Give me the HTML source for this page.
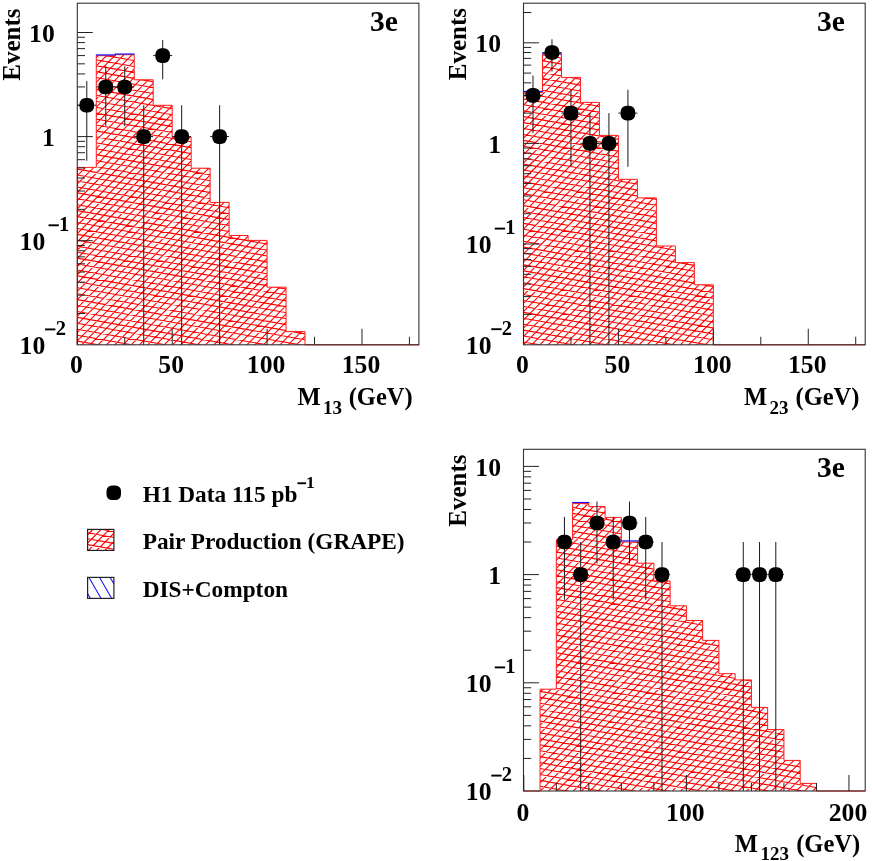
<!DOCTYPE html>
<html><head><meta charset="utf-8"><title>chart</title>
<style>html,body{margin:0;padding:0;background:#fff}svg{display:block;will-change:transform}text{font-family:"Liberation Serif",serif}</style></head>
<body>
<svg width="872" height="861" viewBox="0 0 872 861">
<defs>
</defs>
<rect width="872" height="861" fill="#fff"/>
<clipPath id="clip1"><rect x="77.3" y="3.2" width="341.59999999999997" height="341.6"/></clipPath>
<path d="M77.30 344.80 L77.30 167.40 L96.28 167.40 L96.28 55.70 L115.26 55.70 L115.26 54.70 L134.23 54.70 L134.23 79.80 L153.21 79.80 L153.21 105.30 L172.19 105.30 L172.19 137.50 L191.17 137.50 L191.17 168.20 L210.14 168.20 L210.14 202.40 L229.12 202.40 L229.12 235.50 L248.10 235.50 L248.10 240.40 L267.08 240.40 L267.08 287.20 L286.06 287.20 L286.06 331.60 L305.03 331.60 L305.03 344.80Z" fill="#fff" stroke="none"/>
<clipPath id="hc1"><path d="M77.30 344.80 L77.30 167.40 L96.28 167.40 L96.28 55.70 L115.26 55.70 L115.26 54.70 L134.23 54.70 L134.23 79.80 L153.21 79.80 L153.21 105.30 L172.19 105.30 L172.19 137.50 L191.17 137.50 L191.17 168.20 L210.14 168.20 L210.14 202.40 L229.12 202.40 L229.12 235.50 L248.10 235.50 L248.10 240.40 L267.08 240.40 L267.08 287.20 L286.06 287.20 L286.06 331.60 L305.03 331.60 L305.03 344.80Z"/></clipPath>
<g clip-path="url(#hc1)"><path d="M77.30 10.52L418.90 -331.08 M77.30 18.78L418.90 -322.82 M77.30 27.04L418.90 -314.56 M77.30 35.30L418.90 -306.30 M77.30 43.56L418.90 -298.04 M77.30 51.82L418.90 -289.78 M77.30 60.08L418.90 -281.52 M77.30 68.34L418.90 -273.26 M77.30 76.60L418.90 -265.00 M77.30 84.86L418.90 -256.74 M77.30 93.12L418.90 -248.48 M77.30 101.38L418.90 -240.22 M77.30 109.64L418.90 -231.96 M77.30 117.90L418.90 -223.70 M77.30 126.16L418.90 -215.44 M77.30 134.42L418.90 -207.18 M77.30 142.68L418.90 -198.92 M77.30 150.94L418.90 -190.66 M77.30 159.20L418.90 -182.40 M77.30 167.46L418.90 -174.14 M77.30 175.72L418.90 -165.88 M77.30 183.98L418.90 -157.62 M77.30 192.24L418.90 -149.36 M77.30 200.50L418.90 -141.10 M77.30 208.76L418.90 -132.84 M77.30 217.02L418.90 -124.58 M77.30 225.28L418.90 -116.32 M77.30 233.54L418.90 -108.06 M77.30 241.80L418.90 -99.80 M77.30 250.06L418.90 -91.54 M77.30 258.32L418.90 -83.28 M77.30 266.58L418.90 -75.02 M77.30 274.84L418.90 -66.76 M77.30 283.10L418.90 -58.50 M77.30 291.36L418.90 -50.24 M77.30 299.62L418.90 -41.98 M77.30 307.88L418.90 -33.72 M77.30 316.14L418.90 -25.46 M77.30 324.40L418.90 -17.20 M77.30 332.66L418.90 -8.94 M77.30 340.92L418.90 -0.68 M77.30 349.18L418.90 7.58 M77.30 357.44L418.90 15.84 M77.30 365.70L418.90 24.10 M77.30 373.96L418.90 32.36 M77.30 382.22L418.90 40.62 M77.30 390.48L418.90 48.88 M77.30 398.74L418.90 57.14 M77.30 407.00L418.90 65.40 M77.30 415.26L418.90 73.66 M77.30 423.52L418.90 81.92 M77.30 431.78L418.90 90.18 M77.30 440.04L418.90 98.44 M77.30 448.30L418.90 106.70 M77.30 456.56L418.90 114.96 M77.30 464.82L418.90 123.22 M77.30 473.08L418.90 131.48 M77.30 481.34L418.90 139.74 M77.30 489.60L418.90 148.00 M77.30 497.86L418.90 156.26 M77.30 506.12L418.90 164.52 M77.30 514.38L418.90 172.78 M77.30 522.64L418.90 181.04 M77.30 530.90L418.90 189.30 M77.30 539.16L418.90 197.56 M77.30 547.42L418.90 205.82 M77.30 555.68L418.90 214.08 M77.30 563.94L418.90 222.34 M77.30 572.20L418.90 230.60 M77.30 580.46L418.90 238.86 M77.30 588.72L418.90 247.12 M77.30 596.98L418.90 255.38 M77.30 605.24L418.90 263.64 M77.30 613.50L418.90 271.90 M77.30 621.76L418.90 280.16 M77.30 630.02L418.90 288.42 M77.30 638.28L418.90 296.68 M77.30 646.54L418.90 304.94 M77.30 654.80L418.90 313.20 M77.30 663.06L418.90 321.46 M77.30 671.32L418.90 329.72 M77.30 679.58L418.90 337.98 M77.30 -56.19L418.90 4.04 M77.30 -50.26L418.90 9.97 M77.30 -44.33L418.90 15.90 M77.30 -38.40L418.90 21.83 M77.30 -32.47L418.90 27.76 M77.30 -26.54L418.90 33.69 M77.30 -20.61L418.90 39.62 M77.30 -14.68L418.90 45.55 M77.30 -8.75L418.90 51.48 M77.30 -2.82L418.90 57.41 M77.30 3.11L418.90 63.34 M77.30 9.04L418.90 69.27 M77.30 14.97L418.90 75.20 M77.30 20.90L418.90 81.13 M77.30 26.83L418.90 87.06 M77.30 32.76L418.90 92.99 M77.30 38.69L418.90 98.92 M77.30 44.62L418.90 104.85 M77.30 50.55L418.90 110.78 M77.30 56.48L418.90 116.71 M77.30 62.41L418.90 122.64 M77.30 68.34L418.90 128.57 M77.30 74.27L418.90 134.50 M77.30 80.20L418.90 140.43 M77.30 86.13L418.90 146.36 M77.30 92.06L418.90 152.29 M77.30 97.99L418.90 158.22 M77.30 103.92L418.90 164.15 M77.30 109.85L418.90 170.08 M77.30 115.78L418.90 176.01 M77.30 121.71L418.90 181.94 M77.30 127.64L418.90 187.87 M77.30 133.57L418.90 193.80 M77.30 139.50L418.90 199.73 M77.30 145.43L418.90 205.66 M77.30 151.36L418.90 211.59 M77.30 157.29L418.90 217.52 M77.30 163.22L418.90 223.45 M77.30 169.15L418.90 229.38 M77.30 175.08L418.90 235.31 M77.30 181.01L418.90 241.24 M77.30 186.94L418.90 247.17 M77.30 192.87L418.90 253.10 M77.30 198.80L418.90 259.03 M77.30 204.73L418.90 264.96 M77.30 210.66L418.90 270.89 M77.30 216.59L418.90 276.82 M77.30 222.52L418.90 282.75 M77.30 228.45L418.90 288.68 M77.30 234.38L418.90 294.61 M77.30 240.31L418.90 300.54 M77.30 246.24L418.90 306.47 M77.30 252.17L418.90 312.40 M77.30 258.10L418.90 318.33 M77.30 264.03L418.90 324.26 M77.30 269.96L418.90 330.19 M77.30 275.89L418.90 336.12 M77.30 281.82L418.90 342.05 M77.30 287.75L418.90 347.98 M77.30 293.68L418.90 353.91 M77.30 299.61L418.90 359.84 M77.30 305.54L418.90 365.77 M77.30 311.47L418.90 371.70 M77.30 317.40L418.90 377.63 M77.30 323.33L418.90 383.56 M77.30 329.26L418.90 389.49 M77.30 335.19L418.90 395.42 M77.30 341.12L418.90 401.35" stroke="#ff0000" stroke-width="1.1" fill="none"/></g>
<path d="M305.03 344.8H418.9M77.3 344.8H77.30" stroke="#ff0000" stroke-width="1.0" fill="none"/>
<path d="M77.30 344.80 L77.30 167.40 L96.28 167.40 L96.28 55.70 L115.26 55.70 L115.26 54.70 L134.23 54.70 L134.23 79.80 L153.21 79.80 L153.21 105.30 L172.19 105.30 L172.19 137.50 L191.17 137.50 L191.17 168.20 L210.14 168.20 L210.14 202.40 L229.12 202.40 L229.12 235.50 L248.10 235.50 L248.10 240.40 L267.08 240.40 L267.08 287.20 L286.06 287.20 L286.06 331.60 L305.03 331.60 L305.03 344.80" fill="none" stroke="#ff1a1a" stroke-width="1"/>
<path d="M95.78 54.90H115.76" stroke="#1010ff" stroke-width="1.15" fill="none"/>
<path d="M114.76 54.00H134.73" stroke="#1010ff" stroke-width="1.15" fill="none"/>
<rect x="77.3" y="3.2" width="341.59999999999997" height="341.6" fill="none" stroke="#333" stroke-width="1.1"/>
<path d="M77.30 344.8v-16 M172.19 344.8v-16 M267.08 344.8v-16 M361.97 344.8v-16 M124.74 344.8v-8 M219.63 344.8v-8 M314.52 344.8v-8 M409.41 344.8v-8 M77.3 313.46h7.7 M77.3 295.13h7.7 M77.3 282.13h7.7 M77.3 272.04h7.7 M77.3 263.79h7.7 M77.3 256.83h7.7 M77.3 250.79h7.7 M77.3 245.46h7.7 M77.3 240.70h15.5 M77.3 209.36h7.7 M77.3 191.03h7.7 M77.3 178.03h7.7 M77.3 167.94h7.7 M77.3 159.69h7.7 M77.3 152.73h7.7 M77.3 146.69h7.7 M77.3 141.36h7.7 M77.3 136.60h15.5 M77.3 105.26h7.7 M77.3 86.93h7.7 M77.3 73.93h7.7 M77.3 63.84h7.7 M77.3 55.59h7.7 M77.3 48.63h7.7 M77.3 42.59h7.7 M77.3 37.26h7.7 M77.3 32.50h15.5" stroke="#222" stroke-width="1" fill="none"/>
<path d="M86.79 81.08V160.78M77.30 105.26H96.28 M105.77 66.33V125.87M96.28 86.93H115.26 M124.74 66.33V125.87M115.26 86.93H134.23 M143.72 105.26V344.80M134.23 136.60H153.21 M162.70 40.12V79.31M153.21 55.59H172.19 M181.68 105.26V344.80M172.19 136.60H191.17 M219.63 105.26V344.80M210.14 136.60H229.12" stroke="#1a1a1a" stroke-width="1" fill="none"/>
<rect x="79.49" y="97.96" width="14.6" height="14.6" rx="6" fill="#000"/>
<rect x="98.47" y="79.63" width="14.6" height="14.6" rx="6" fill="#000"/>
<rect x="117.44" y="79.63" width="14.6" height="14.6" rx="6" fill="#000"/>
<rect x="136.42" y="129.30" width="14.6" height="14.6" rx="6" fill="#000"/>
<rect x="155.40" y="48.29" width="14.6" height="14.6" rx="6" fill="#000"/>
<rect x="174.38" y="129.30" width="14.6" height="14.6" rx="6" fill="#000"/>
<rect x="212.33" y="129.30" width="14.6" height="14.6" rx="6" fill="#000"/>
<text x="76.30" y="373.3" font-size="25.7" text-anchor="middle" font-family="Liberation Serif, serif" font-weight="bold">0</text>
<text x="171.19" y="373.3" font-size="25.7" text-anchor="middle" font-family="Liberation Serif, serif" font-weight="bold">50</text>
<text x="266.08" y="373.3" font-size="25.7" text-anchor="middle" font-family="Liberation Serif, serif" font-weight="bold">100</text>
<text x="360.97" y="373.3" font-size="25.7" text-anchor="middle" font-family="Liberation Serif, serif" font-weight="bold">150</text>
<text x="54.8" y="41.70" font-size="25.7" text-anchor="end" font-family="Liberation Serif, serif" font-weight="bold">10</text>
<text x="54.8" y="145.80" font-size="25.7" text-anchor="end" font-family="Liberation Serif, serif" font-weight="bold">1</text>
<text x="45.3" y="249.70" font-size="25.7" text-anchor="end" font-family="Liberation Serif, serif" font-weight="bold">10</text>
<rect x="48.55" y="224.35" width="10.3" height="1.9" fill="#000"/>
<text x="58.96" y="230.70" font-size="20.5" font-family="Liberation Serif, serif" font-weight="bold">1</text>
<text x="45.3" y="353.80" font-size="25.7" text-anchor="end" font-family="Liberation Serif, serif" font-weight="bold">10</text>
<rect x="45.10" y="328.45" width="10.3" height="1.9" fill="#000"/>
<text x="55.64" y="334.80" font-size="20.5" font-family="Liberation Serif, serif" font-weight="bold">2</text>
<text transform="translate(20 8.5) rotate(-90)" font-size="25" text-anchor="end" font-family="Liberation Serif, serif" font-weight="bold">Events</text>
<text x="369.9" y="31.0" font-size="29.5" font-family="Liberation Serif, serif" font-weight="bold">3e</text>
<text x="297.5" y="405" font-size="24.5" font-family="Liberation Serif, serif" font-weight="bold">M</text>
<text x="323.1" y="413.6" font-size="19" font-family="Liberation Serif, serif" font-weight="bold">13</text>
<text x="348.7" y="405" font-size="24.5" font-family="Liberation Serif, serif" font-weight="bold">(GeV)</text>
<clipPath id="clip2"><rect x="523.5" y="3.2" width="341.70000000000005" height="341.6"/></clipPath>
<path d="M523.50 344.80 L523.50 92.40 L542.48 92.40 L542.48 54.70 L561.47 54.70 L561.47 77.40 L580.45 77.40 L580.45 102.40 L599.43 102.40 L599.43 135.40 L618.42 135.40 L618.42 179.30 L637.40 179.30 L637.40 197.90 L656.38 197.90 L656.38 246.00 L675.37 246.00 L675.37 262.60 L694.35 262.60 L694.35 284.80 L713.33 284.80 L713.33 344.80Z" fill="#fff" stroke="none"/>
<clipPath id="hc2"><path d="M523.50 344.80 L523.50 92.40 L542.48 92.40 L542.48 54.70 L561.47 54.70 L561.47 77.40 L580.45 77.40 L580.45 102.40 L599.43 102.40 L599.43 135.40 L618.42 135.40 L618.42 179.30 L637.40 179.30 L637.40 197.90 L656.38 197.90 L656.38 246.00 L675.37 246.00 L675.37 262.60 L694.35 262.60 L694.35 284.80 L713.33 284.80 L713.33 344.80Z"/></clipPath>
<g clip-path="url(#hc2)"><path d="M523.50 6.04L865.20 -335.66 M523.50 14.30L865.20 -327.40 M523.50 22.56L865.20 -319.14 M523.50 30.82L865.20 -310.88 M523.50 39.08L865.20 -302.62 M523.50 47.34L865.20 -294.36 M523.50 55.60L865.20 -286.10 M523.50 63.86L865.20 -277.84 M523.50 72.12L865.20 -269.58 M523.50 80.38L865.20 -261.32 M523.50 88.64L865.20 -253.06 M523.50 96.90L865.20 -244.80 M523.50 105.16L865.20 -236.54 M523.50 113.42L865.20 -228.28 M523.50 121.68L865.20 -220.02 M523.50 129.94L865.20 -211.76 M523.50 138.20L865.20 -203.50 M523.50 146.46L865.20 -195.24 M523.50 154.72L865.20 -186.98 M523.50 162.98L865.20 -178.72 M523.50 171.24L865.20 -170.46 M523.50 179.50L865.20 -162.20 M523.50 187.76L865.20 -153.94 M523.50 196.02L865.20 -145.68 M523.50 204.28L865.20 -137.42 M523.50 212.54L865.20 -129.16 M523.50 220.80L865.20 -120.90 M523.50 229.06L865.20 -112.64 M523.50 237.32L865.20 -104.38 M523.50 245.58L865.20 -96.12 M523.50 253.84L865.20 -87.86 M523.50 262.10L865.20 -79.60 M523.50 270.36L865.20 -71.34 M523.50 278.62L865.20 -63.08 M523.50 286.88L865.20 -54.82 M523.50 295.14L865.20 -46.56 M523.50 303.40L865.20 -38.30 M523.50 311.66L865.20 -30.04 M523.50 319.92L865.20 -21.78 M523.50 328.18L865.20 -13.52 M523.50 336.44L865.20 -5.26 M523.50 344.70L865.20 3.00 M523.50 352.96L865.20 11.26 M523.50 361.22L865.20 19.52 M523.50 369.48L865.20 27.78 M523.50 377.74L865.20 36.04 M523.50 386.00L865.20 44.30 M523.50 394.26L865.20 52.56 M523.50 402.52L865.20 60.82 M523.50 410.78L865.20 69.08 M523.50 419.04L865.20 77.34 M523.50 427.30L865.20 85.60 M523.50 435.56L865.20 93.86 M523.50 443.82L865.20 102.12 M523.50 452.08L865.20 110.38 M523.50 460.34L865.20 118.64 M523.50 468.60L865.20 126.90 M523.50 476.86L865.20 135.16 M523.50 485.12L865.20 143.42 M523.50 493.38L865.20 151.68 M523.50 501.64L865.20 159.94 M523.50 509.90L865.20 168.20 M523.50 518.16L865.20 176.46 M523.50 526.42L865.20 184.72 M523.50 534.68L865.20 192.98 M523.50 542.94L865.20 201.24 M523.50 551.20L865.20 209.50 M523.50 559.46L865.20 217.76 M523.50 567.72L865.20 226.02 M523.50 575.98L865.20 234.28 M523.50 584.24L865.20 242.54 M523.50 592.50L865.20 250.80 M523.50 600.76L865.20 259.06 M523.50 609.02L865.20 267.32 M523.50 617.28L865.20 275.58 M523.50 625.54L865.20 283.84 M523.50 633.80L865.20 292.10 M523.50 642.06L865.20 300.36 M523.50 650.32L865.20 308.62 M523.50 658.58L865.20 316.88 M523.50 666.84L865.20 325.14 M523.50 675.10L865.20 333.40 M523.50 683.36L865.20 341.66 M523.50 -55.31L865.20 4.94 M523.50 -49.38L865.20 10.87 M523.50 -43.45L865.20 16.80 M523.50 -37.52L865.20 22.73 M523.50 -31.59L865.20 28.66 M523.50 -25.66L865.20 34.59 M523.50 -19.73L865.20 40.52 M523.50 -13.80L865.20 46.45 M523.50 -7.87L865.20 52.38 M523.50 -1.94L865.20 58.31 M523.50 3.99L865.20 64.24 M523.50 9.92L865.20 70.17 M523.50 15.85L865.20 76.10 M523.50 21.78L865.20 82.03 M523.50 27.71L865.20 87.96 M523.50 33.64L865.20 93.89 M523.50 39.57L865.20 99.82 M523.50 45.50L865.20 105.75 M523.50 51.43L865.20 111.68 M523.50 57.36L865.20 117.61 M523.50 63.29L865.20 123.54 M523.50 69.22L865.20 129.47 M523.50 75.15L865.20 135.40 M523.50 81.08L865.20 141.33 M523.50 87.01L865.20 147.26 M523.50 92.94L865.20 153.19 M523.50 98.87L865.20 159.12 M523.50 104.80L865.20 165.05 M523.50 110.73L865.20 170.98 M523.50 116.66L865.20 176.91 M523.50 122.59L865.20 182.84 M523.50 128.52L865.20 188.77 M523.50 134.45L865.20 194.70 M523.50 140.38L865.20 200.63 M523.50 146.31L865.20 206.56 M523.50 152.24L865.20 212.49 M523.50 158.17L865.20 218.42 M523.50 164.10L865.20 224.35 M523.50 170.03L865.20 230.28 M523.50 175.96L865.20 236.21 M523.50 181.89L865.20 242.14 M523.50 187.82L865.20 248.07 M523.50 193.75L865.20 254.00 M523.50 199.68L865.20 259.93 M523.50 205.61L865.20 265.86 M523.50 211.54L865.20 271.79 M523.50 217.47L865.20 277.72 M523.50 223.40L865.20 283.65 M523.50 229.33L865.20 289.58 M523.50 235.26L865.20 295.51 M523.50 241.19L865.20 301.44 M523.50 247.12L865.20 307.37 M523.50 253.05L865.20 313.30 M523.50 258.98L865.20 319.23 M523.50 264.91L865.20 325.16 M523.50 270.84L865.20 331.09 M523.50 276.77L865.20 337.02 M523.50 282.70L865.20 342.95 M523.50 288.63L865.20 348.88 M523.50 294.56L865.20 354.81 M523.50 300.49L865.20 360.74 M523.50 306.42L865.20 366.67 M523.50 312.35L865.20 372.60 M523.50 318.28L865.20 378.53 M523.50 324.21L865.20 384.46 M523.50 330.14L865.20 390.39 M523.50 336.07L865.20 396.32 M523.50 342.00L865.20 402.25" stroke="#ff0000" stroke-width="1.1" fill="none"/></g>
<path d="M713.33 344.8H865.2M523.5 344.8H523.50" stroke="#ff0000" stroke-width="1.0" fill="none"/>
<path d="M523.50 344.80 L523.50 92.40 L542.48 92.40 L542.48 54.70 L561.47 54.70 L561.47 77.40 L580.45 77.40 L580.45 102.40 L599.43 102.40 L599.43 135.40 L618.42 135.40 L618.42 179.30 L637.40 179.30 L637.40 197.90 L656.38 197.90 L656.38 246.00 L675.37 246.00 L675.37 262.60 L694.35 262.60 L694.35 284.80 L713.33 284.80 L713.33 344.80" fill="none" stroke="#ff1a1a" stroke-width="1"/>
<path d="M523.00 91.40H542.98" stroke="#1010ff" stroke-width="1.15" fill="none"/>
<path d="M541.98 53.80H561.97" stroke="#1010ff" stroke-width="1.15" fill="none"/>
<rect x="523.5" y="3.2" width="341.70000000000005" height="341.6" fill="none" stroke="#333" stroke-width="1.1"/>
<path d="M523.50 344.8v-16 M618.42 344.8v-16 M713.33 344.8v-16 M808.25 344.8v-16 M570.96 344.8v-8 M665.88 344.8v-8 M760.79 344.8v-8 M855.71 344.8v-8 M523.5 314.32h7.7 M523.5 296.60h7.7 M523.5 284.03h7.7 M523.5 274.28h7.7 M523.5 266.32h7.7 M523.5 259.58h7.7 M523.5 253.75h7.7 M523.5 248.60h7.7 M523.5 244.00h15.5 M523.5 213.72h7.7 M523.5 196.00h7.7 M523.5 183.43h7.7 M523.5 173.68h7.7 M523.5 165.72h7.7 M523.5 158.98h7.7 M523.5 153.15h7.7 M523.5 148.00h7.7 M523.5 143.40h15.5 M523.5 113.12h7.7 M523.5 95.40h7.7 M523.5 82.83h7.7 M523.5 73.08h7.7 M523.5 65.12h7.7 M523.5 58.38h7.7 M523.5 52.55h7.7 M523.5 47.40h7.7 M523.5 42.80h15.5 M523.5 12.52h7.7 M523.5 12.52h7.7" stroke="#222" stroke-width="1" fill="none"/>
<path d="M532.99 75.49V133.03M523.50 95.40H542.48 M551.98 39.32V71.61M542.48 52.55H561.47 M570.96 89.75V166.77M561.47 113.12H580.45 M589.94 113.12V344.80M580.45 143.40H599.43 M608.92 113.12V344.80M599.43 143.40H618.42 M627.91 89.75V166.77M618.42 113.12H637.40" stroke="#1a1a1a" stroke-width="1" fill="none"/>
<rect x="525.69" y="88.10" width="14.6" height="14.6" rx="6" fill="#000"/>
<rect x="544.68" y="45.25" width="14.6" height="14.6" rx="6" fill="#000"/>
<rect x="563.66" y="105.82" width="14.6" height="14.6" rx="6" fill="#000"/>
<rect x="582.64" y="136.10" width="14.6" height="14.6" rx="6" fill="#000"/>
<rect x="601.62" y="136.10" width="14.6" height="14.6" rx="6" fill="#000"/>
<rect x="620.61" y="105.82" width="14.6" height="14.6" rx="6" fill="#000"/>
<text x="522.50" y="373.3" font-size="25.7" text-anchor="middle" font-family="Liberation Serif, serif" font-weight="bold">0</text>
<text x="617.42" y="373.3" font-size="25.7" text-anchor="middle" font-family="Liberation Serif, serif" font-weight="bold">50</text>
<text x="712.33" y="373.3" font-size="25.7" text-anchor="middle" font-family="Liberation Serif, serif" font-weight="bold">100</text>
<text x="807.25" y="373.3" font-size="25.7" text-anchor="middle" font-family="Liberation Serif, serif" font-weight="bold">150</text>
<text x="501.0" y="52.00" font-size="25.7" text-anchor="end" font-family="Liberation Serif, serif" font-weight="bold">10</text>
<text x="501.0" y="152.60" font-size="25.7" text-anchor="end" font-family="Liberation Serif, serif" font-weight="bold">1</text>
<text x="491.5" y="253.00" font-size="25.7" text-anchor="end" font-family="Liberation Serif, serif" font-weight="bold">10</text>
<rect x="494.75" y="227.65" width="10.3" height="1.9" fill="#000"/>
<text x="505.16" y="234.00" font-size="20.5" font-family="Liberation Serif, serif" font-weight="bold">1</text>
<text x="491.5" y="353.60" font-size="25.7" text-anchor="end" font-family="Liberation Serif, serif" font-weight="bold">10</text>
<rect x="491.30" y="328.25" width="10.3" height="1.9" fill="#000"/>
<text x="501.84" y="334.60" font-size="20.5" font-family="Liberation Serif, serif" font-weight="bold">2</text>
<text transform="translate(465.8 8.0) rotate(-90)" font-size="25" text-anchor="end" font-family="Liberation Serif, serif" font-weight="bold">Events</text>
<text x="816.9" y="31.0" font-size="29.5" font-family="Liberation Serif, serif" font-weight="bold">3e</text>
<text x="744" y="405" font-size="24.5" font-family="Liberation Serif, serif" font-weight="bold">M</text>
<text x="769.6" y="413.6" font-size="19" font-family="Liberation Serif, serif" font-weight="bold">23</text>
<text x="795.5" y="405" font-size="24.5" font-family="Liberation Serif, serif" font-weight="bold">(GeV)</text>
<clipPath id="clip3"><rect x="523.5" y="449.3" width="341.70000000000005" height="341.7"/></clipPath>
<path d="M540.06 791.00 L540.06 689.20 L556.32 689.20 L556.32 539.60 L572.57 539.60 L572.57 503.60 L588.83 503.60 L588.83 506.60 L605.09 506.60 L605.09 517.40 L621.35 517.40 L621.35 542.00 L637.61 542.00 L637.61 563.20 L653.86 563.20 L653.86 581.00 L670.12 581.00 L670.12 605.80 L686.38 605.80 L686.38 620.50 L702.64 620.50 L702.64 640.40 L718.90 640.40 L718.90 673.70 L735.15 673.70 L735.15 679.90 L751.41 679.90 L751.41 707.40 L767.67 707.40 L767.67 729.60 L783.93 729.60 L783.93 760.40 L800.19 760.40 L800.19 783.40 L816.44 783.40 L816.44 791.00Z" fill="#fff" stroke="none"/>
<clipPath id="hc3"><path d="M540.06 791.00 L540.06 689.20 L556.32 689.20 L556.32 539.60 L572.57 539.60 L572.57 503.60 L588.83 503.60 L588.83 506.60 L605.09 506.60 L605.09 517.40 L621.35 517.40 L621.35 542.00 L637.61 542.00 L637.61 563.20 L653.86 563.20 L653.86 581.00 L670.12 581.00 L670.12 605.80 L686.38 605.80 L686.38 620.50 L702.64 620.50 L702.64 640.40 L718.90 640.40 L718.90 673.70 L735.15 673.70 L735.15 679.90 L751.41 679.90 L751.41 707.40 L767.67 707.40 L767.67 729.60 L783.93 729.60 L783.93 760.40 L800.19 760.40 L800.19 783.40 L816.44 783.40 L816.44 791.00Z"/></clipPath>
<g clip-path="url(#hc3)"><path d="M523.50 452.58L865.20 110.88 M523.50 460.84L865.20 119.14 M523.50 469.10L865.20 127.40 M523.50 477.36L865.20 135.66 M523.50 485.62L865.20 143.92 M523.50 493.88L865.20 152.18 M523.50 502.14L865.20 160.44 M523.50 510.40L865.20 168.70 M523.50 518.66L865.20 176.96 M523.50 526.92L865.20 185.22 M523.50 535.18L865.20 193.48 M523.50 543.44L865.20 201.74 M523.50 551.70L865.20 210.00 M523.50 559.96L865.20 218.26 M523.50 568.22L865.20 226.52 M523.50 576.48L865.20 234.78 M523.50 584.74L865.20 243.04 M523.50 593.00L865.20 251.30 M523.50 601.26L865.20 259.56 M523.50 609.52L865.20 267.82 M523.50 617.78L865.20 276.08 M523.50 626.04L865.20 284.34 M523.50 634.30L865.20 292.60 M523.50 642.56L865.20 300.86 M523.50 650.82L865.20 309.12 M523.50 659.08L865.20 317.38 M523.50 667.34L865.20 325.64 M523.50 675.60L865.20 333.90 M523.50 683.86L865.20 342.16 M523.50 692.12L865.20 350.42 M523.50 700.38L865.20 358.68 M523.50 708.64L865.20 366.94 M523.50 716.90L865.20 375.20 M523.50 725.16L865.20 383.46 M523.50 733.42L865.20 391.72 M523.50 741.68L865.20 399.98 M523.50 749.94L865.20 408.24 M523.50 758.20L865.20 416.50 M523.50 766.46L865.20 424.76 M523.50 774.72L865.20 433.02 M523.50 782.98L865.20 441.28 M523.50 791.24L865.20 449.54 M523.50 799.50L865.20 457.80 M523.50 807.76L865.20 466.06 M523.50 816.02L865.20 474.32 M523.50 824.28L865.20 482.58 M523.50 832.54L865.20 490.84 M523.50 840.80L865.20 499.10 M523.50 849.06L865.20 507.36 M523.50 857.32L865.20 515.62 M523.50 865.58L865.20 523.88 M523.50 873.84L865.20 532.14 M523.50 882.10L865.20 540.40 M523.50 890.36L865.20 548.66 M523.50 898.62L865.20 556.92 M523.50 906.88L865.20 565.18 M523.50 915.14L865.20 573.44 M523.50 923.40L865.20 581.70 M523.50 931.66L865.20 589.96 M523.50 939.92L865.20 598.22 M523.50 948.18L865.20 606.48 M523.50 956.44L865.20 614.74 M523.50 964.70L865.20 623.00 M523.50 972.96L865.20 631.26 M523.50 981.22L865.20 639.52 M523.50 989.48L865.20 647.78 M523.50 997.74L865.20 656.04 M523.50 1006.00L865.20 664.30 M523.50 1014.26L865.20 672.56 M523.50 1022.52L865.20 680.82 M523.50 1030.78L865.20 689.08 M523.50 1039.04L865.20 697.34 M523.50 1047.30L865.20 705.60 M523.50 1055.56L865.20 713.86 M523.50 1063.82L865.20 722.12 M523.50 1072.08L865.20 730.38 M523.50 1080.34L865.20 738.64 M523.50 1088.60L865.20 746.90 M523.50 1096.86L865.20 755.16 M523.50 1105.12L865.20 763.42 M523.50 1113.38L865.20 771.68 M523.50 1121.64L865.20 779.94 M523.50 1129.90L865.20 788.20 M523.50 392.01L865.20 452.26 M523.50 397.94L865.20 458.19 M523.50 403.87L865.20 464.12 M523.50 409.80L865.20 470.05 M523.50 415.73L865.20 475.98 M523.50 421.66L865.20 481.91 M523.50 427.59L865.20 487.84 M523.50 433.52L865.20 493.77 M523.50 439.45L865.20 499.70 M523.50 445.38L865.20 505.63 M523.50 451.31L865.20 511.56 M523.50 457.24L865.20 517.49 M523.50 463.17L865.20 523.42 M523.50 469.10L865.20 529.35 M523.50 475.03L865.20 535.28 M523.50 480.96L865.20 541.21 M523.50 486.89L865.20 547.14 M523.50 492.82L865.20 553.07 M523.50 498.75L865.20 559.00 M523.50 504.68L865.20 564.93 M523.50 510.61L865.20 570.86 M523.50 516.54L865.20 576.79 M523.50 522.47L865.20 582.72 M523.50 528.40L865.20 588.65 M523.50 534.33L865.20 594.58 M523.50 540.26L865.20 600.51 M523.50 546.19L865.20 606.44 M523.50 552.12L865.20 612.37 M523.50 558.05L865.20 618.30 M523.50 563.98L865.20 624.23 M523.50 569.91L865.20 630.16 M523.50 575.84L865.20 636.09 M523.50 581.77L865.20 642.02 M523.50 587.70L865.20 647.95 M523.50 593.63L865.20 653.88 M523.50 599.56L865.20 659.81 M523.50 605.49L865.20 665.74 M523.50 611.42L865.20 671.67 M523.50 617.35L865.20 677.60 M523.50 623.28L865.20 683.53 M523.50 629.21L865.20 689.46 M523.50 635.14L865.20 695.39 M523.50 641.07L865.20 701.32 M523.50 647.00L865.20 707.25 M523.50 652.93L865.20 713.18 M523.50 658.86L865.20 719.11 M523.50 664.79L865.20 725.04 M523.50 670.72L865.20 730.97 M523.50 676.65L865.20 736.90 M523.50 682.58L865.20 742.83 M523.50 688.51L865.20 748.76 M523.50 694.44L865.20 754.69 M523.50 700.37L865.20 760.62 M523.50 706.30L865.20 766.55 M523.50 712.23L865.20 772.48 M523.50 718.16L865.20 778.41 M523.50 724.09L865.20 784.34 M523.50 730.02L865.20 790.27 M523.50 735.95L865.20 796.20 M523.50 741.88L865.20 802.13 M523.50 747.81L865.20 808.06 M523.50 753.74L865.20 813.99 M523.50 759.67L865.20 819.92 M523.50 765.60L865.20 825.85 M523.50 771.53L865.20 831.78 M523.50 777.46L865.20 837.71 M523.50 783.39L865.20 843.64 M523.50 789.32L865.20 849.57" stroke="#ff0000" stroke-width="1.1" fill="none"/></g>
<path d="M816.44 791.0H865.2M523.5 791.0H540.06" stroke="#ff0000" stroke-width="1.0" fill="none"/>
<path d="M540.06 791.00 L540.06 689.20 L556.32 689.20 L556.32 539.60 L572.57 539.60 L572.57 503.60 L588.83 503.60 L588.83 506.60 L605.09 506.60 L605.09 517.40 L621.35 517.40 L621.35 542.00 L637.61 542.00 L637.61 563.20 L653.86 563.20 L653.86 581.00 L670.12 581.00 L670.12 605.80 L686.38 605.80 L686.38 620.50 L702.64 620.50 L702.64 640.40 L718.90 640.40 L718.90 673.70 L735.15 673.70 L735.15 679.90 L751.41 679.90 L751.41 707.40 L767.67 707.40 L767.67 729.60 L783.93 729.60 L783.93 760.40 L800.19 760.40 L800.19 783.40 L816.44 783.40 L816.44 791.00" fill="none" stroke="#ff1a1a" stroke-width="1"/>
<path d="M572.07 502.50H589.33" stroke="#1010ff" stroke-width="1.15" fill="none"/>
<path d="M620.85 540.90H638.11" stroke="#1010ff" stroke-width="1.15" fill="none"/>
<rect x="523.5" y="449.3" width="341.70000000000005" height="341.7" fill="none" stroke="#333" stroke-width="1.1"/>
<path d="M523.80 791.0v-16 M686.38 791.0v-16 M848.96 791.0v-16 M556.32 791.0v-8 M588.83 791.0v-8 M621.35 791.0v-8 M653.86 791.0v-8 M718.90 791.0v-8 M751.41 791.0v-8 M783.93 791.0v-8 M816.44 791.0v-8 M523.5 758.43h7.7 M523.5 739.38h7.7 M523.5 725.86h7.7 M523.5 715.37h7.7 M523.5 706.80h7.7 M523.5 699.56h7.7 M523.5 693.29h7.7 M523.5 687.75h7.7 M523.5 682.80h15.5 M523.5 650.23h7.7 M523.5 631.18h7.7 M523.5 617.66h7.7 M523.5 607.17h7.7 M523.5 598.60h7.7 M523.5 591.36h7.7 M523.5 585.09h7.7 M523.5 579.55h7.7 M523.5 574.60h15.5 M523.5 542.03h7.7 M523.5 522.98h7.7 M523.5 509.46h7.7 M523.5 498.97h7.7 M523.5 490.40h7.7 M523.5 483.16h7.7 M523.5 476.89h7.7 M523.5 471.35h7.7 M523.5 466.40h15.5" stroke="#222" stroke-width="1" fill="none"/>
<path d="M564.44 516.90V599.73M556.32 542.03H572.57 M580.70 542.03V791.00M572.57 574.60H588.83 M596.96 501.56V563.44M588.83 522.98H605.09 M613.22 516.90V599.73M605.09 542.03H621.35 M629.48 501.56V563.44M621.35 522.98H637.61 M645.73 516.90V599.73M637.61 542.03H653.86 M661.99 542.03V791.00M653.86 574.60H670.12 M743.28 542.03V791.00M735.15 574.60H751.41 M759.54 542.03V791.00M751.41 574.60H767.67 M775.80 542.03V791.00M767.67 574.60H783.93" stroke="#1a1a1a" stroke-width="1" fill="none"/>
<rect x="557.14" y="534.73" width="14.6" height="14.6" rx="6" fill="#000"/>
<rect x="573.40" y="567.30" width="14.6" height="14.6" rx="6" fill="#000"/>
<rect x="589.66" y="515.68" width="14.6" height="14.6" rx="6" fill="#000"/>
<rect x="605.92" y="534.73" width="14.6" height="14.6" rx="6" fill="#000"/>
<rect x="622.18" y="515.68" width="14.6" height="14.6" rx="6" fill="#000"/>
<rect x="638.43" y="534.73" width="14.6" height="14.6" rx="6" fill="#000"/>
<rect x="654.69" y="567.30" width="14.6" height="14.6" rx="6" fill="#000"/>
<rect x="735.98" y="567.30" width="14.6" height="14.6" rx="6" fill="#000"/>
<rect x="752.24" y="567.30" width="14.6" height="14.6" rx="6" fill="#000"/>
<rect x="768.50" y="567.30" width="14.6" height="14.6" rx="6" fill="#000"/>
<text x="522.80" y="820.5" font-size="25.7" text-anchor="middle" font-family="Liberation Serif, serif" font-weight="bold">0</text>
<text x="685.38" y="820.5" font-size="25.7" text-anchor="middle" font-family="Liberation Serif, serif" font-weight="bold">100</text>
<text x="847.96" y="820.5" font-size="25.7" text-anchor="middle" font-family="Liberation Serif, serif" font-weight="bold">200</text>
<text x="501.0" y="475.60" font-size="25.7" text-anchor="end" font-family="Liberation Serif, serif" font-weight="bold">10</text>
<text x="501.0" y="583.80" font-size="25.7" text-anchor="end" font-family="Liberation Serif, serif" font-weight="bold">1</text>
<text x="491.5" y="691.80" font-size="25.7" text-anchor="end" font-family="Liberation Serif, serif" font-weight="bold">10</text>
<rect x="494.75" y="666.45" width="10.3" height="1.9" fill="#000"/>
<text x="505.16" y="672.80" font-size="20.5" font-family="Liberation Serif, serif" font-weight="bold">1</text>
<text x="491.5" y="800.00" font-size="25.7" text-anchor="end" font-family="Liberation Serif, serif" font-weight="bold">10</text>
<rect x="491.30" y="774.65" width="10.3" height="1.9" fill="#000"/>
<text x="501.84" y="781.00" font-size="20.5" font-family="Liberation Serif, serif" font-weight="bold">2</text>
<text transform="translate(465.8 454.5) rotate(-90)" font-size="25" text-anchor="end" font-family="Liberation Serif, serif" font-weight="bold">Events</text>
<text x="816.9" y="477.0" font-size="29.5" font-family="Liberation Serif, serif" font-weight="bold">3e</text>
<text x="734.8" y="851.5" font-size="24.5" font-family="Liberation Serif, serif" font-weight="bold">M</text>
<text x="760.5999999999999" y="860.1" font-size="19" font-family="Liberation Serif, serif" font-weight="bold">123</text>
<text x="796.2" y="851.5" font-size="24.5" font-family="Liberation Serif, serif" font-weight="bold">(GeV)</text>
<rect x="106.5" y="485.5" width="14.5" height="14.5" rx="5.5" fill="#000"/>
<clipPath id="lc1"><rect x="87.6" y="529.4" width="26.30000000000001" height="21"/></clipPath>
<g clip-path="url(#lc1)"><path d="M87.60 534.74L113.90 508.44 M87.60 543.00L113.90 516.70 M87.60 551.26L113.90 524.96 M87.60 559.52L113.90 533.22 M87.60 567.78L113.90 541.48 M87.60 576.04L113.90 549.74 M87.60 526.87L113.90 531.50 M87.60 532.80L113.90 537.43 M87.60 538.73L113.90 543.36 M87.60 544.66L113.90 549.29" stroke="#ff0000" stroke-width="1.1" fill="none"/></g>
<rect x="87.6" y="529.4" width="26.30" height="21" fill="none" stroke="#222" stroke-width="1.2"/>
<clipPath id="lc2"><rect x="87.6" y="577.4" width="26.30000000000001" height="21"/></clipPath>
<path clip-path="url(#lc2)" d="M87.60 483.29L113.90 528.84 M87.60 501.65L113.90 547.20 M87.60 520.01L113.90 565.56 M87.60 538.37L113.90 583.92 M87.60 556.73L113.90 602.28 M87.60 575.09L113.90 620.64 M87.60 593.45L113.90 639.00 M87.60 611.81L113.90 657.36 M87.60 630.17L113.90 675.72 M87.60 648.53L113.90 694.08" stroke="#1010ff" stroke-width="1.05" fill="none"/>
<rect x="87.6" y="577.4" width="26.30" height="21" fill="none" stroke="#222" stroke-width="1.2"/>
<text x="142.7" y="501.8" font-size="24.0" textLength="154.7" lengthAdjust="spacingAndGlyphs" font-family="Liberation Serif, serif" font-weight="bold">H1 Data 115 pb</text>
<text x="142.7" y="548.5" font-size="24.0" textLength="261.9" lengthAdjust="spacingAndGlyphs" font-family="Liberation Serif, serif" font-weight="bold">Pair Production (GRAPE)</text>
<text x="142.7" y="597.4" font-size="24.0" textLength="145.3" lengthAdjust="spacingAndGlyphs" font-family="Liberation Serif, serif" font-weight="bold">DIS+Compton</text>
<rect x="297.5" y="482.3" width="8.6" height="1.9" fill="#000"/>
<text x="306.1" y="487.8" font-size="17.5" font-family="Liberation Serif, serif" font-weight="bold">1</text>
</svg>
</body></html>
